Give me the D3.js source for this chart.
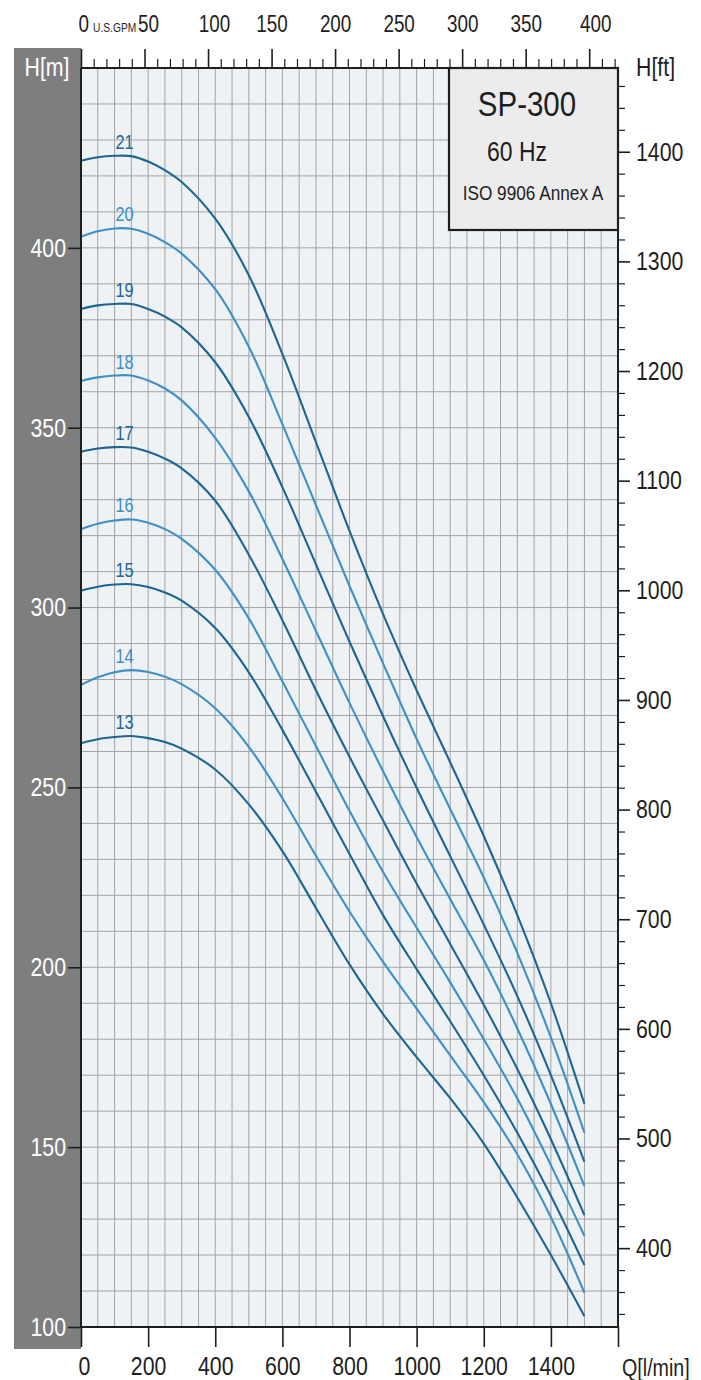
<!DOCTYPE html>
<html><head><meta charset="utf-8">
<script src="https://cdn.jsdelivr.net/npm/d3@7"></script>
<style>html,body{margin:0;padding:0;background:#fff;}svg{display:block;}</style>
</head><body>
<script>
// ---------- data ----------
const qFlow = [0,50,100,150,200,250,300,400,500,600,700,800,900,1000,1100,1200,1300,1400,1500];
const stages = [21,20,19,18,17,16,15,14,13];
const head21 = [424.2,425.2,425.6,425.5,424.0,421.6,418.3,408.1,392.4,370.5,346.0,321.3,298.2,277.0,257.0,236.5,214.5,190.0,162.0];
const head20 = [403.1,404.6,405.4,405.3,403.9,401.6,398.4,388.5,372.5,351.0,328.5,306.0,284.5,263.5,244.0,225.0,204.0,180.5,154.0];
const head19 = [383.0,384.0,384.4,384.4,383.0,380.9,377.9,368.2,353.0,333.5,312.0,290.5,269.8,249.9,230.9,211.9,192.0,170.0,145.9];
const head18 = [363.0,364.0,364.5,364.5,363.1,360.9,357.6,347.2,332.3,313.5,293.5,273.5,254.5,236.2,219.0,202.0,183.0,162.0,139.2];
const head17 = [343.3,344.2,344.6,344.5,343.3,341.4,338.7,329.7,314.7,296.5,277.0,258.5,240.8,223.3,206.5,189.6,171.7,152.2,131.1];
const head16 = [321.8,323.3,324.2,324.5,323.6,321.8,319.1,310.5,297.0,279.5,261.5,243.5,226.5,211.0,195.8,180.0,163.5,145.0,125.3];
const head15 = [304.7,305.8,306.4,306.5,305.7,304.2,301.9,294.3,282.0,266.0,248.8,231.5,214.5,199.5,185.0,170.0,154.0,136.5,117.2];
const head14 = [278.5,280.6,282.0,282.6,282.1,280.8,278.7,272.0,261.3,247.0,231.0,215.5,201.5,188.5,175.5,162.5,148.0,130.5,109.5];
const head13 = [262.3,263.4,264.0,264.3,263.7,262.6,260.8,255.0,245.3,232.3,216.5,200.8,187.0,175.0,163.6,151.0,136.0,120.0,103.0];
const heads = [head21,head20,head19,head18,head17,head16,head15,head14,head13];

const qTicks = [0,200,400,600,800,1000,1200,1400,1600];
const hTicks = [100,150,200,250,300,350,400];
const gpmMajor = [0,50,100,150,200,250,300,350,400];
const gpmMinor = [10,20,30,40,60,70,80,90,110,120,130,140,160,170,180,190,210,220,230,240,260,270,280,290,310,320,330,340,360,370,380,390,410,420];
const ftMajor = [400,500,600,700,800,900,1000,1100,1200,1300,1400];
const ftMinor = [340,360,380,420,440,460,480,520,540,560,580,620,640,660,680,720,740,760,780,820,840,860,880,920,940,960,980,1020,1040,1060,1080,1120,1140,1160,1180,1220,1240,1260,1280,1320,1340,1360,1380,1420,1440,1460];
const titleLines = ["SP-300","60 Hz","ISO 9906 Annex A"];

// ---------- setup ----------
const FONT = "'Liberation Sans',Arial,Helvetica,sans-serif";
const SX = 0.82; // condensed look of the original type
const W = 701, H = 1380;
const L = 81, R = 618, T = 68, B = 1327;
const DARK = "#1d6593", LIGHT = "#3f8fc4", INK = "#1e1e1e";

const x = d3.scaleLinear().domain([0,1600]).range([L,R]);
const y = d3.scaleLinear().domain([100,450]).range([B,T]);
const gpm = d3.scaleLinear().domain([0,1600/3.785411784]).range([L,R]);
const ft = d3.scaleLinear().domain([100*3.28084,450*3.28084]).range([B,T]);

const svg = d3.select("body").append("svg").attr("width",W).attr("height",H)
  .style("font-family",FONT);

svg.append("rect").attr("width",W).attr("height",H).attr("fill","#fff");
svg.append("rect").attr("x",14).attr("y",48).attr("width",L-14).attr("height",1349-48).attr("fill","#7e7e7e");
svg.append("rect").attr("x",L).attr("y",T).attr("width",R-L).attr("height",B-T).attr("fill","#eef2f5");

// grid
const grid = svg.append("g").attr("stroke","#a2a4a6").attr("stroke-width",1);
grid.selectAll("line.v").data(d3.range(50,1600,50)).join("line").attr("class","v")
  .attr("x1",d=>x(d)).attr("x2",d=>x(d)).attr("y1",T).attr("y2",B);
grid.selectAll("line.h").data(d3.range(110,450,10)).join("line").attr("class","h")
  .attr("y1",d=>y(d)).attr("y2",d=>y(d)).attr("x1",L).attr("x2",R);

// curves
const line = d3.line().x((d,i)=>x(qFlow[i])).y(d=>y(d)).curve(d3.curveCatmullRom.alpha(0.5));
const curves = svg.append("g");
heads.forEach((hs,k)=>{
  const col = stages[k]%2 ? DARK : LIGHT;
  curves.append("path").attr("d",line(hs)).attr("fill","none")
    .attr("stroke",col).attr("stroke-width",2.1).attr("stroke-linejoin","round");
  curves.append("text").attr("x",x(130)).attr("y",y(d3.max(hs))-7)
    .attr("text-anchor","middle").attr("fill",col).attr("font-size",20)
    .text(stages[k]);
});

// title box
svg.append("rect").attr("x",449).attr("y",T).attr("width",R-449).attr("height",230-T)
  .attr("fill","#ececec").attr("stroke",INK).attr("stroke-width",2.2);
svg.append("text").attr("x",527).attr("y",116).attr("text-anchor","middle")
  .attr("font-size",36).attr("fill",INK).text(titleLines[0]);
svg.append("text").attr("x",517).attr("y",161).attr("text-anchor","middle")
  .attr("font-size",28).attr("fill",INK).text(titleLines[1]);
svg.append("text").attr("x",533).attr("y",200).attr("text-anchor","middle")
  .attr("font-size",21).attr("fill",INK).text(titleLines[2]);

// frame
const frame = svg.append("g").attr("stroke",INK).attr("stroke-width",2);
frame.append("line").attr("x1",L).attr("x2",R).attr("y1",T).attr("y2",T);
frame.append("line").attr("x1",L).attr("x2",R).attr("y1",B).attr("y2",B);
frame.append("line").attr("x1",L).attr("x2",L).attr("y1",T).attr("y2",B);
frame.append("line").attr("x1",R).attr("x2",R).attr("y1",T).attr("y2",B);

function styleAxis(g){
  g.attr("font-family",FONT);
  g.select(".domain").remove();
  g.selectAll(".tick line").attr("stroke",INK).attr("stroke-width",1.6);
  g.selectAll("text").attr("fill",INK);
}

// left axis (m)
const ax1 = svg.append("g").attr("transform",`translate(${L},0)`)
  .call(d3.axisLeft(y).tickValues(hTicks).tickSize(13).tickPadding(2));
styleAxis(ax1);
ax1.selectAll("text").attr("font-size",26).attr("fill","#ffffff");
svg.append("text").attr("x",47).attr("y",76).attr("text-anchor","middle")
  .attr("font-size",26).attr("fill","#ffffff").text("H[m]");

// bottom axis (l/min)
const ax2 = svg.append("g").attr("transform",`translate(0,${B})`)
  .call(d3.axisBottom(x).tickValues(qTicks).tickSize(20).tickPadding(10)
    .tickFormat(d=> d===1600 ? "" : d3.format("d")(d)));
styleAxis(ax2);
ax2.selectAll("text").attr("font-size",26);
ax2.selectAll(".tick").filter(d=>d===0).select("text").attr("dx",3);
svg.append("text").attr("x",622).attr("y",1376).attr("font-size",24).attr("fill",INK).text("Q[l/min]");

// top axis (US GPM)
const ax3m = svg.append("g").attr("transform",`translate(0,${T})`)
  .call(d3.axisTop(gpm).tickValues(gpmMinor).tickSize(9).tickFormat(""));
styleAxis(ax3m);
ax3m.selectAll(".tick line").attr("stroke-width",1.2);
const ax3 = svg.append("g").attr("transform",`translate(0,${T})`)
  .call(d3.axisTop(gpm).tickValues(gpmMajor).tickSize(19).tickPadding(17).tickFormat(d3.format("d")));
styleAxis(ax3);
ax3.selectAll("text").attr("font-size",23);
ax3.selectAll(".tick").filter(d=>d===0).select("text").attr("text-anchor","start").attr("dx",-3);
ax3.selectAll(".tick").filter(d=>d===50).select("text").attr("text-anchor","start").attr("dx",-7);
ax3.selectAll(".tick").filter(d=>d===100||d===400).select("text").attr("dx",6);
svg.append("text").attr("x",93).attr("y",32).attr("font-size",12.5).attr("fill",INK).text("U.S.GPM");

// right axis (ft)
const ax4m = svg.append("g").attr("transform",`translate(${R},0)`)
  .call(d3.axisRight(ft).tickValues(ftMinor).tickSize(7).tickFormat(""));
styleAxis(ax4m);
ax4m.selectAll(".tick line").attr("stroke-width",1.2);
const ax4 = svg.append("g").attr("transform",`translate(${R},0)`)
  .call(d3.axisRight(ft).tickValues(ftMajor).tickSize(12).tickPadding(6).tickFormat(d3.format("d")));
styleAxis(ax4);
ax4.selectAll("text").attr("font-size",26);
svg.append("text").attr("x",636).attr("y",76).attr("font-size",26).attr("fill",INK).text("H[ft]");

// condense all type horizontally (original uses a condensed grotesque)
svg.selectAll("text").each(function(){
  const t = d3.select(this);
  const xa = +(t.attr("x") || 0);
  t.attr("x", xa/SX);
  const dx = t.attr("dx");
  if (dx !== null && !isNaN(+dx)) t.attr("dx", +dx/SX);
  t.attr("font-family",FONT).attr("transform", `scale(${SX},1)`);
});
</script>
</body></html>
